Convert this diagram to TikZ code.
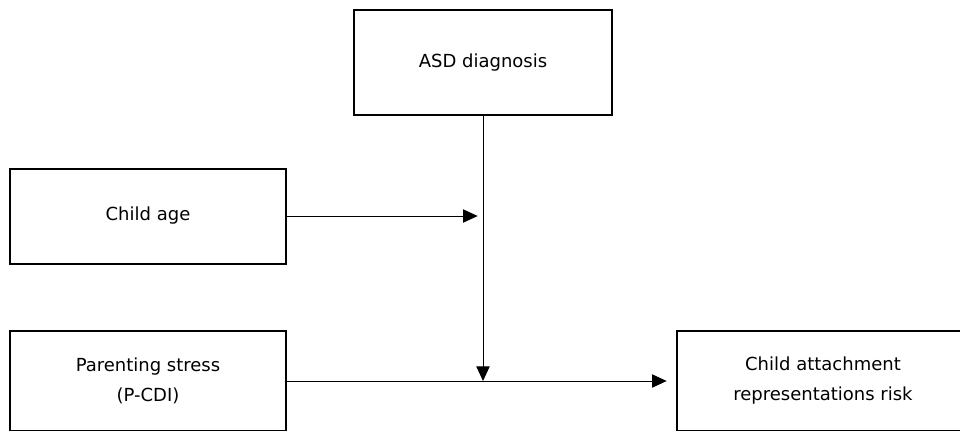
\documentclass[tikz,border=0pt]{standalone}
\usepackage{fontspec}
\setmainfont{DejaVu Sans}
\usetikzlibrary{arrows.meta}

\begin{document}
\begin{tikzpicture}[x=0.75pt,y=-0.75pt,
    var/.style={draw,line width=1.5pt,minimum width=207pt,minimum height=75pt,
      inner sep=0pt,align=center,font=\fontsize{13.5}{22.5}\selectfont},
    link/.style={line width=0.75pt,-{Triangle[length=11pt,width=10pt]}}]
  \useasboundingbox (0,0) rectangle (960,430);
  \node[var,minimum width=193.5pt,minimum height=78.75pt] (asd) at (483,62.5) {ASD diagnosis};
  \node[var,minimum height=71.25pt] (age) at (148,216) {Child age};
  \node[var] (stress) at (148,381) {Parenting stress\\(P-CDI)};
  \node[var,minimum width=219pt] (risk) at (823,381) {Child attachment\\representations risk};
  \draw[link,shorten >=4pt] (age.east) -- (age.east -| asd.south);
  \draw[link] (asd.south) -- (asd.south |- stress.east);
  \draw[link,shorten >=7pt] (stress.east) -- (risk.west);
\end{tikzpicture}
\end{document}
